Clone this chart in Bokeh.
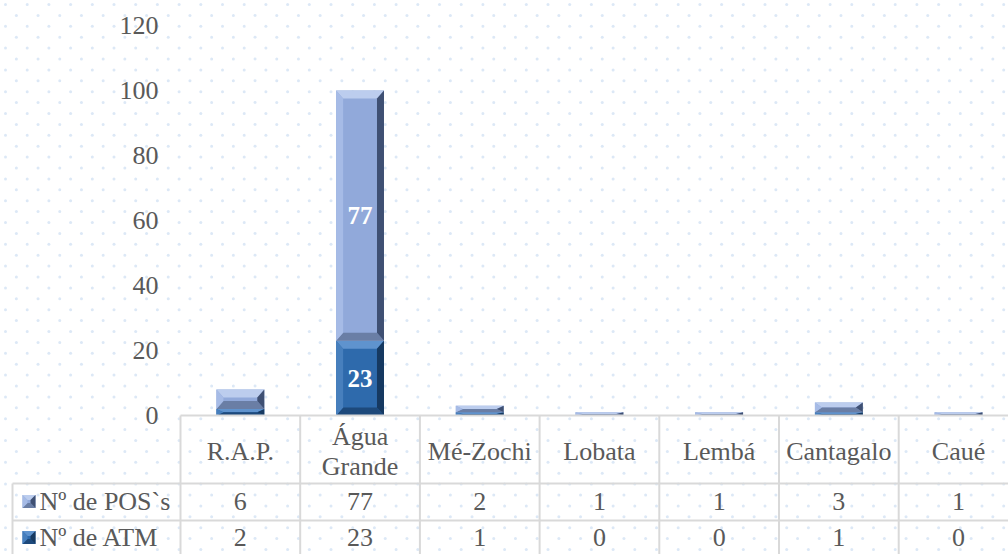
from bokeh.plotting import figure
from bokeh.models import LinearAxis, FixedTicker, ColumnDataSource, Range1d
from bokeh.embed import file_html
from bokeh.resources import INLINE
from bokeh.core.properties import value

# ---------------- data ----------------
categories = ["R.A.P.", "Água Grande", "Mé-Zochi", "Lobata", "Lembá", "Cantagalo", "Caué"]
header_labels = ["R.A.P.", "Água\nGrande", "Mé-Zochi", "Lobata", "Lembá", "Cantagalo", "Caué"]
pos_values = [6, 77, 2, 1, 1, 3, 1]
atm_values = [2, 23, 1, 0, 0, 1, 0]
series_names = ["Nº de POS`s", "Nº de ATM"]
y_ticks = [0, 20, 40, 60, 80, 100, 120]

# ---------------- geometry helpers (reference pixel -> data) ----------------
COL = 119.7      # px per category
UNIT = 3.25      # px per y unit
W, H = 1008, 554
FONT = "Liberation Serif"
TXT = "#595959"
GRID = "#d9d9d9"

def xd(X):
    return (X - 180.0) / COL - 0.5

def yd(Y):
    return (415.0 - Y) / UNIT

p = figure(width=W, height=H, x_range=Range1d(xd(0), xd(W)),
           y_range=Range1d(yd(H), yd(0)), output_backend="svg",
           toolbar_location=None, min_border=0,
           x_axis_location=None, y_axis_location=None)
p.outline_line_color = None
p.grid.visible = False
p.background_fill_color = "white"
p.border_fill_color = "white"

# ---------------- background dot texture ----------------
dx, dy = 21.7, 10.9
bgx, bgy = [], []
r = 0
Y = 4
while Y < H:
    X = 5 + (dx / 2 if r % 2 else 0)
    while X < W:
        bgx.append(xd(X)); bgy.append(yd(Y))
        X += dx
    Y += dy
    r += 1
p.scatter(bgx, bgy, size=3, marker="circle", fill_color="#d3e2f4",
          line_color=None, fill_alpha=0.8)

# ---------------- y axis (fixed inside frame) ----------------
yaxis = LinearAxis(fixed_location=xd(174), ticker=FixedTicker(ticks=y_ticks))
yaxis.axis_line_color = None
yaxis.major_tick_line_color = None
yaxis.minor_tick_line_color = None
yaxis.major_label_standoff = 10
yaxis.major_label_text_font = FONT
yaxis.major_label_text_font_size = "26px"
yaxis.major_label_text_color = TXT
p.add_layout(yaxis, "left")

# ---------------- beveled stacked bars ----------------
POS_C = dict(face="#91a9da", top="#bccdee", left="#a6bbe6", right="#3f5073", bottom="#6a7ea5")
ATM_C = dict(face="#2e6aac", top="#5f93ce", left="#477fbd", right="#163961", bottom="#1d497b")
BAR_W = 0.40
BX = 7 / COL
BY = 8 / UNIT

faces = dict(l=[], r=[], b=[], t=[], c=[])
bev = dict(xs=[], ys=[], c=[])

def add_bevel(xl, xr, yb, yt, cols, bx=BX, by=BY):
    byy = min(by, (yt - yb) / 2)
    bxx = min(bx, (xr - xl) / 2)
    faces["l"].append(xl); faces["r"].append(xr)
    faces["b"].append(yb); faces["t"].append(yt); faces["c"].append(cols["face"])
    polys = [
        ([xl, xr, xr - bxx, xl + bxx], [yt, yt, yt - byy, yt - byy], cols["top"]),
        ([xl, xr, xr - bxx, xl + bxx], [yb, yb, yb + byy, yb + byy], cols["bottom"]),
        ([xl, xl, xl + bxx, xl + bxx], [yb, yt, yt - byy, yb + byy], cols["left"]),
        ([xr, xr, xr - bxx, xr - bxx], [yb, yt, yt - byy, yb + byy], cols["right"]),
    ]
    for xs, ys, c in polys:
        bev["xs"].append(xs); bev["ys"].append(ys); bev["c"].append(c)

lab = dict(x=[], y=[], t=[])
for i, (a, v) in enumerate(zip(atm_values, pos_values)):
    xl, xr = i - BAR_W / 2, i + BAR_W / 2
    for yb, yt, cols in [(0, a, ATM_C), (a, a + v, POS_C)]:
        if yt - yb <= 0:
            continue
        add_bevel(xl, xr, yb, yt, cols)
        if yt - yb >= 15:
            lab["x"].append(i); lab["y"].append((yb + yt) / 2); lab["t"].append(str(yt - yb))

# legend markers (inside table's first column)
row_centers = [yd(501), yd(537)]
for cols, yc in zip([POS_C, ATM_C], row_centers):
    hh = 6.5 / UNIT
    add_bevel(xd(22), xd(35), yc - hh, yc + hh, cols, bx=5 / COL, by=5 / UNIT)

p.quad(left="l", right="r", bottom="b", top="t", fill_color="c", line_color=None,
       source=ColumnDataSource(faces))
p.patches(xs="xs", ys="ys", fill_color="c", line_color=None,
          source=ColumnDataSource(bev))

p.text(x="x", y="y", text="t", source=ColumnDataSource(lab),
       text_font=value(FONT), text_font_style="bold", text_font_size="25px",
       text_color="white", text_align="center", text_baseline="middle")

# ---------------- data table ----------------
n = len(categories)
x_right = xd(W + 5)
seg_x0, seg_y0, seg_x1, seg_y1 = [], [], [], []
for (Xa, Yh) in [(180, 415), (12, 483), (12, 520)]:
    seg_x0.append(xd(Xa)); seg_x1.append(x_right); seg_y0.append(yd(Yh)); seg_y1.append(yd(Yh))
for k in range(n + 1):
    xv = k - 0.5
    seg_x0.append(xv); seg_x1.append(xv); seg_y0.append(0); seg_y1.append(yd(H + 10))
seg_x0.append(xd(12)); seg_x1.append(xd(12)); seg_y0.append(yd(483)); seg_y1.append(yd(H + 10))
p.segment(seg_x0, seg_y0, seg_x1, seg_y1, line_color=GRID, line_width=2)

idx = list(range(n))
p.text(x=idx, y=[yd(451)] * n, text=header_labels, text_font=value(FONT),
       text_font_size="26px", text_color=TXT, text_align="center",
       text_baseline="middle", text_line_height=1.05)
p.text(x=idx, y=[row_centers[0]] * n, text=[str(v) for v in pos_values],
       text_font=value(FONT), text_font_size="26px", text_color=TXT,
       text_align="center", text_baseline="middle")
p.text(x=idx, y=[row_centers[1]] * n, text=[str(v) for v in atm_values],
       text_font=value(FONT), text_font_size="26px", text_color=TXT,
       text_align="center", text_baseline="middle")
p.text(x=[xd(39)] * 2, y=row_centers, text=series_names, text_font=value(FONT),
       text_font_size="26px", text_color=TXT, text_align="left",
       text_baseline="middle")

open("out.html", "w").write(file_html(p, INLINE))
